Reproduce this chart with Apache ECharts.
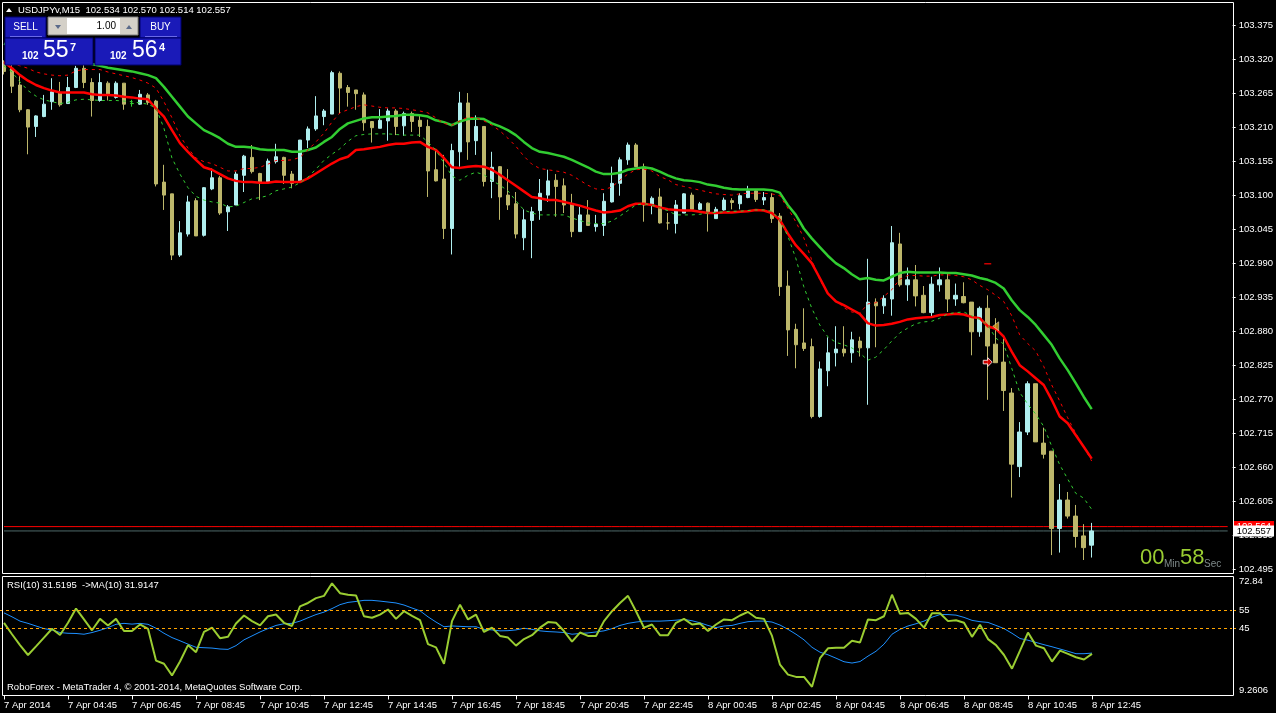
<!DOCTYPE html>
<html>
<head>
<meta charset="utf-8" />
<title>USDJPYv,M15</title>
<script type="text/javascript" src="https://cdn.jsdelivr.net/npm/echarts@6/dist/echarts.min.js"></script>
<style>
	html, body { margin: 0; padding: 0; background: #000; }
	#main { width: 1276px; height: 713px; }
</style>
</head>
<body>
<div id="main"></div>
<script>
// 时间轴标签 (每 8 根 K 线一个)
var timeLabels = ['7 Apr 2014', '7 Apr 04:45', '7 Apr 06:45', '7 Apr 08:45', '7 Apr 10:45', '7 Apr 12:45',
	'7 Apr 14:45', '7 Apr 16:45', '7 Apr 18:45', '7 Apr 20:45', '7 Apr 22:45', '8 Apr 00:45',
	'8 Apr 02:45', '8 Apr 04:45', '8 Apr 06:45', '8 Apr 08:45', '8 Apr 10:45', '8 Apr 12:45'];
var priceTicks = [102.495, 102.550, 102.605, 102.660, 102.715, 102.770, 102.825, 102.880, 102.935,
	102.990, 103.045, 103.100, 103.155, 103.210, 103.265, 103.320, 103.375];
var rsiTicks = [9.2606, 45, 55, 72.84];
var rsiLevels = [45, 55];

// K 线 USDJPYv M15
var opens = [103.312,103.305,103.278,103.238,103.211,103.227,103.251,103.266,103.248,103.274,
	103.305,103.282,103.253,103.281,103.258,103.281,103.248,103.247,103.262,103.252,
	103.121,103.102,103.003,103.037,103.091,103.035,103.110,103.128,103.073,103.084,
	103.132,103.161,103.135,103.120,103.154,103.161,103.134,103.123,103.189,103.207,
	103.227,103.231,103.297,103.274,103.270,103.262,103.219,103.208,103.220,103.236,
	103.212,103.232,103.221,103.211,103.141,103.126,103.046,103.170,103.249,103.188,
	103.211,103.122,103.146,103.100,103.086,103.031,103.059,103.075,103.100,103.124,
	103.115,103.086,103.041,103.068,103.049,103.051,103.089,103.119,103.157,103.181,
	103.145,103.084,103.097,103.055,103.054,103.071,103.100,103.077,103.087,103.062,
	103.076,103.091,103.086,103.096,103.107,103.092,103.096,103.066,102.953,102.883,
	102.861,102.855,102.742,102.816,102.845,102.851,102.845,102.864,102.853,102.927,
	102.921,102.932,103.021,102.955,102.963,102.938,102.910,102.955,102.963,102.932,
	102.936,102.927,102.879,102.917,102.859,102.830,102.780,102.661,102.717,102.795,
	102.699,102.686,102.561,102.607,102.581,102.549,102.534];
var highs = [103.318,103.312,103.294,103.239,103.229,103.262,103.289,103.283,103.291,103.309,
	103.312,103.289,103.297,103.284,103.284,103.281,103.254,103.270,103.265,103.254,
	103.149,103.102,103.058,103.099,103.095,103.113,103.143,103.131,103.084,103.138,
	103.165,103.181,103.136,103.159,103.183,103.162,103.139,103.189,103.211,103.260,
	103.239,103.301,103.300,103.278,103.270,103.266,103.219,103.239,103.240,103.239,
	103.235,103.235,103.229,103.222,103.172,103.165,103.183,103.267,103.265,103.229,
	103.211,103.170,103.147,103.142,103.105,103.077,103.081,103.126,103.141,103.134,
	103.127,103.102,103.081,103.092,103.068,103.103,103.146,103.161,103.185,103.184,
	103.151,103.098,103.111,103.071,103.092,103.103,103.104,103.089,103.088,103.081,
	103.096,103.095,103.103,103.115,103.109,103.105,103.103,103.071,102.978,102.892,
	102.917,102.868,102.831,102.870,102.888,102.888,102.879,102.871,102.997,102.933,
	102.938,103.050,103.039,102.983,102.987,102.953,102.968,102.983,102.974,102.957,
	102.959,102.927,102.920,102.938,102.901,102.868,102.788,102.733,102.799,102.795,
	102.724,102.686,102.633,102.620,102.599,102.568,102.570];
var lows = [103.295,103.265,103.234,103.166,103.194,103.226,103.238,103.243,103.248,103.273,
	103.273,103.227,103.251,103.253,103.256,103.238,103.243,103.246,103.246,103.114,
	103.076,102.995,103.000,103.033,103.034,103.033,103.108,103.068,103.042,103.084,
	103.105,103.135,103.092,103.118,103.151,103.118,103.111,103.123,103.176,103.204,
	103.213,103.231,103.232,103.243,103.238,103.204,103.185,103.208,103.188,103.197,
	103.196,103.202,103.194,103.097,103.122,103.029,103.004,103.146,103.157,103.165,
	103.114,103.095,103.060,103.076,103.030,103.011,102.998,103.060,103.089,103.065,
	103.071,103.032,103.041,103.051,103.041,103.034,103.088,103.099,103.149,103.146,
	103.057,103.069,103.054,103.044,103.038,103.071,103.075,103.076,103.041,103.062,
	103.075,103.077,103.077,103.095,103.089,103.084,103.055,102.937,102.840,102.820,
	102.848,102.739,102.740,102.791,102.823,102.839,102.829,102.839,102.761,102.854,
	102.908,102.905,102.952,102.929,102.920,102.909,102.903,102.944,102.911,102.921,
	102.925,102.841,102.871,102.769,102.829,102.751,102.611,102.644,102.712,102.701,
	102.674,102.518,102.522,102.577,102.530,102.510,102.514];
var closes = [103.300,103.276,103.238,103.210,103.228,103.247,103.267,103.246,103.274,103.305,
	103.282,103.253,103.282,103.262,103.281,103.247,103.248,103.263,103.250,103.118,
	103.100,103.003,103.039,103.089,103.034,103.112,103.128,103.071,103.081,103.134,
	103.163,103.138,103.120,103.155,103.162,103.132,103.119,103.189,103.207,103.228,
	103.236,103.298,103.273,103.266,103.264,103.217,103.209,103.221,103.236,103.211,
	103.232,103.219,103.211,103.139,103.123,103.046,103.172,103.249,103.186,103.211,
	103.122,103.145,103.097,103.084,103.037,103.060,103.073,103.103,103.123,103.114,
	103.084,103.041,103.068,103.051,103.053,103.090,103.119,103.157,103.181,103.146,
	103.084,103.095,103.055,103.055,103.084,103.102,103.077,103.086,103.071,103.077,
	103.092,103.088,103.099,103.107,103.093,103.096,103.062,102.952,102.882,102.858,
	102.852,102.742,102.819,102.845,102.851,102.845,102.866,102.853,102.927,102.921,
	102.933,103.023,102.955,102.963,102.937,102.910,102.956,102.963,102.932,102.938,
	102.926,102.879,102.917,102.856,102.829,102.784,102.665,102.717,102.795,102.701,
	102.681,102.561,102.607,102.581,102.548,102.530,102.557];
var greenDoji = [16];

// 均线
var maGreen = [103.345,103.340,103.336,103.333,103.330,103.327,103.324,103.321,103.318,103.316,
	103.314,103.312,103.309,103.306,103.304,103.302,103.300,103.297,103.294,103.289,
	103.275,103.259,103.243,103.227,103.216,103.205,103.199,103.192,103.183,103.178,
	103.178,103.177,103.174,103.173,103.173,103.173,103.170,103.170,103.173,103.177,
	103.186,103.194,103.207,103.216,103.220,103.224,103.226,103.226,103.227,103.228,
	103.230,103.230,103.229,103.227,103.221,103.218,103.213,103.219,103.223,103.224,
	103.223,103.216,103.211,103.205,103.197,103.186,103.176,103.170,103.168,103.165,
	103.162,103.157,103.151,103.145,103.138,103.134,103.134,103.136,103.141,103.143,
	103.145,103.143,103.138,103.132,103.127,103.124,103.123,103.121,103.117,103.115,
	103.112,103.110,103.109,103.109,103.109,103.109,103.108,103.104,103.084,103.068,
	103.046,103.030,103.016,103.002,102.990,102.982,102.972,102.964,102.966,102.963,
	102.962,102.968,102.974,102.976,102.975,102.975,102.975,102.975,102.974,102.974,
	102.972,102.970,102.966,102.963,102.958,102.949,102.930,102.914,102.903,102.890,
	102.874,102.858,102.836,102.817,102.796,102.774,102.754];
var maRed = [103.315,103.305,103.294,103.285,103.278,103.273,103.269,103.266,103.266,103.266,
	103.266,103.263,103.262,103.262,103.261,103.259,103.258,103.256,103.255,103.240,
	103.227,103.205,103.184,103.170,103.157,103.145,103.141,103.134,103.127,103.123,
	103.121,103.121,103.120,103.120,103.122,103.121,103.121,103.121,103.127,103.135,
	103.143,103.151,103.158,103.162,103.173,103.174,103.176,103.178,103.181,103.183,
	103.183,103.185,103.186,103.178,103.173,103.160,103.145,103.144,103.146,103.147,
	103.146,103.141,103.133,103.124,103.115,103.106,103.097,103.095,103.092,103.092,
	103.089,103.086,103.083,103.079,103.075,103.072,103.073,103.075,103.082,103.086,
	103.086,103.084,103.080,103.077,103.076,103.075,103.075,103.073,103.071,103.071,
	103.072,103.072,103.073,103.074,103.076,103.075,103.071,103.060,103.038,103.019,
	103.005,102.990,102.966,102.941,102.928,102.922,102.915,102.908,102.893,102.889,
	102.890,102.892,102.895,102.899,102.901,102.902,102.903,102.906,102.907,102.908,
	102.907,102.903,102.901,102.888,102.884,102.871,102.847,102.825,102.815,102.804,
	102.793,102.769,102.742,102.731,102.712,102.693,102.674];
var maRedDash = [103.315,103.312,103.309,103.305,103.299,103.296,103.294,103.293,103.294,103.301,
	103.303,103.303,103.303,103.299,103.296,103.293,103.290,103.286,103.281,103.273,
	103.251,103.225,103.196,103.176,103.160,103.154,103.151,103.145,103.139,103.139,
	103.143,103.143,103.145,103.150,103.156,103.156,103.157,103.161,103.173,103.186,
	103.200,103.218,103.233,103.238,103.243,103.246,103.244,103.242,103.241,103.241,
	103.240,103.238,103.236,103.233,103.225,103.216,103.213,103.220,103.226,103.225,
	103.220,103.213,103.204,103.192,103.179,103.163,103.150,103.143,103.141,103.139,
	103.137,103.132,103.124,103.116,103.110,103.109,103.113,103.124,103.134,103.141,
	103.142,103.139,103.130,103.125,103.117,103.114,103.111,103.108,103.105,103.102,
	103.101,103.100,103.102,103.103,103.103,103.103,103.102,103.099,103.079,103.057,
	103.031,102.995,102.963,102.941,102.930,102.918,102.911,102.909,102.924,102.926,
	102.936,102.947,102.964,102.970,102.970,102.969,102.969,102.971,102.971,102.970,
	102.968,102.963,102.954,102.947,102.938,102.928,102.905,102.874,102.860,102.848,
	102.823,102.793,102.767,102.740,102.715,102.693,102.670];
var maGreenDash = [103.309,103.299,103.283,103.269,103.260,103.254,103.251,103.248,103.250,103.254,
	103.255,103.254,103.253,103.253,103.253,103.252,103.251,103.249,103.247,103.241,
	103.208,103.160,103.134,103.112,103.098,103.092,103.089,103.087,103.081,103.082,
	103.088,103.094,103.096,103.099,103.107,103.110,103.113,103.120,103.129,103.142,
	103.156,103.166,103.175,103.187,103.196,103.198,103.199,103.199,103.199,103.198,
	103.197,103.197,103.197,103.186,103.173,103.152,103.131,103.124,103.132,103.137,
	103.133,103.124,103.116,103.107,103.091,103.076,103.071,103.068,103.068,103.068,
	103.068,103.063,103.059,103.055,103.054,103.054,103.058,103.066,103.075,103.084,
	103.086,103.084,103.079,103.075,103.068,103.068,103.068,103.069,103.071,103.072,
	103.073,103.074,103.074,103.075,103.076,103.076,103.074,103.060,103.034,102.998,
	102.952,102.917,102.890,102.871,102.862,102.858,102.853,102.845,102.833,102.838,
	102.850,102.864,102.877,102.885,102.892,102.895,102.896,102.901,102.908,102.910,
	102.911,102.905,102.899,102.890,102.869,102.859,102.820,102.781,102.762,102.746,
	102.726,102.694,102.664,102.641,102.618,102.610,102.592];

// RSI(10) 与其 MA(10)
var rsi = [48.1,42.0,36.2,30.9,35.5,40.2,44.9,41.6,48.1,55.7,
	49.9,44.1,50.2,46.7,50.2,43.7,43.7,47.2,44.9,27.9,
	26.2,20.0,27.4,36.2,32.4,43.2,45.5,39.9,40.6,47.7,
	52.0,49.0,46.7,51.6,52.5,48.1,46.4,56.9,58.7,61.3,
	62.5,69.2,63.9,63.1,62.7,51.6,50.8,52.5,55.2,50.2,
	54.3,51.8,49.5,36.7,35.0,26.2,49.0,57.8,49.9,52.5,
	43.2,45.5,41.1,40.2,35.9,39.4,41.5,45.5,48.5,48.1,
	43.7,38.0,42.9,41.1,41.1,49.0,54.3,58.7,62.5,54.3,
	45.5,47.2,41.5,41.5,48.1,50.2,47.2,47.7,43.7,47.2,
	49.9,49.5,52.0,53.9,50.8,50.2,41.1,25.7,20.4,19.2,
	19.2,13.9,29.2,34.5,34.8,34.8,38.5,37.6,49.9,49.5,
	51.6,63.1,52.9,53.4,50.2,45.5,53.2,53.2,49.0,49.5,
	48.1,40.6,47.1,39.4,36.2,30.9,23.6,33.2,42.9,35.9,
	34.5,27.4,33.2,31.5,29.7,28.5,31.52];
var rsiMa = [53.4,51.3,49.0,47.8,46.4,45.0,44.3,42.9,42.5,42.4,
	42.0,42.9,44.1,45.5,47.3,47.8,47.4,47.8,47.3,45.2,
	42.5,40.2,38.5,36.7,35.0,34.8,34.6,34.1,33.9,35.9,
	39.0,41.1,43.2,45.0,46.7,47.6,47.8,49.0,50.8,52.5,
	53.8,55.7,57.8,59.0,59.5,60.1,60.1,59.7,59.2,58.7,
	57.6,56.0,54.5,51.3,48.5,46.0,46.4,46.2,46.0,46.0,
	44.6,44.3,43.8,43.9,44.3,45.2,44.6,43.8,43.4,43.2,
	42.9,42.0,42.4,42.7,43.2,43.8,45.0,46.7,47.8,48.5,
	49.0,49.0,49.0,49.2,49.5,49.9,49.2,48.1,46.7,45.5,
	46.4,46.7,47.8,48.7,49.0,49.0,48.5,46.9,44.6,42.0,
	39.0,35.0,32.4,31.0,29.2,27.3,26.6,27.4,30.3,32.9,
	36.7,42.0,44.6,46.4,47.6,49.0,51.1,52.5,52.5,52.2,
	51.0,49.4,48.7,48.3,46.7,45.0,42.5,39.7,38.8,37.6,
	36.4,35.3,34.1,32.9,31.6,31.6,31.91];

var bid = 102.557, ask = 102.564;
// 图上的交易标记 [K线序号, 价格]
var arrowMarks = [[122.7, 102.830]];
var triangleMarks = [[124.2, 102.888]];
var dashMarks = [[123.0, 102.989]];

var FONT = 'Liberation Sans';
var SLOTS = 154;
var cats = [];
for (var i = 0; i < SLOTS; i++) cats.push(i);

var candles = [];
for (var i = 0; i < opens.length; i++) {
	var item = { value: [opens[i], closes[i], lows[i], highs[i]] };
	if (greenDoji.indexOf(i) >= 0) {
		item.itemStyle = { borderColor: '#32CD32', borderColor0: '#32CD32', borderColorDoji: '#32CD32' };
	}
	candles.push(item);
}

function showTick(idx) { return idx % 8 === 0 && idx / 8 < timeLabels.length; }

// 价格线: 横跨整个图的水平线 + 右侧价格标签
function priceSeries(name, value, lineColor, boxColor, textColor, z) {
	var flat = [];
	for (var i = 0; i < SLOTS; i++) flat.push(value);
	return {
		name: name, type: 'line', xAxisIndex: 0, yAxisIndex: 0, data: flat, showSymbol: false, z: z,
		silent: true, lineStyle: { color: lineColor, width: 1 },
		endLabel: { show: true, distance: 6, formatter: value.toFixed(3), color: textColor,
			backgroundColor: boxColor, padding: [1, 3, 0, 3], fontFamily: FONT, fontSize: 9.5 }
	};
}

var mychart = echarts.init(document.getElementById('main'));

var graphics = [
	// 主图 / 副图 边框
	{ type: 'rect', shape: { x: 2.5, y: 2.5, width: 1231, height: 571 }, style: { fill: null, stroke: '#fff', lineWidth: 1 }, z: 50, silent: true },
	{ type: 'rect', shape: { x: 2.5, y: 576.5, width: 1231, height: 119 }, style: { fill: null, stroke: '#fff', lineWidth: 1 }, z: 50, silent: true },
	// 标题
	{ type: 'polygon', shape: { points: [[6, 12], [12, 12], [9, 8]] }, style: { fill: '#fff' }, z: 60 },
	{ type: 'text', x: 18, y: 10, style: { text: 'USDJPYv,M15  102.534 102.570 102.514 102.557', fill: '#fff', font: '9.5px ' + FONT, verticalAlign: 'middle' }, z: 60 },
	// 一键交易面板
	{ type: 'rect', shape: { x: 5, y: 17, width: 41, height: 21 }, style: { fill: '#1a1ab8', stroke: '#00006a' }, z: 60 },
	{ type: 'line', shape: { x1: 10, y1: 36.5, x2: 42, y2: 36.5 }, style: { stroke: '#6a6ae8' }, z: 61 },
	{ type: 'text', x: 25.5, y: 27, style: { text: 'SELL', fill: '#fff', font: '10px ' + FONT, align: 'center', verticalAlign: 'middle' }, z: 61 },
	{ type: 'rect', shape: { x: 48, y: 17, width: 90, height: 18 }, style: { fill: '#d4d0c8', stroke: '#808080' }, z: 60 },
	{ type: 'rect', shape: { x: 67, y: 18, width: 53, height: 16 }, style: { fill: '#fff' }, z: 61 },
	{ type: 'polygon', shape: { points: [[55, 25], [61, 25], [58, 29]] }, style: { fill: '#5a6a8a' }, z: 61 },
	{ type: 'polygon', shape: { points: [[126, 29], [132, 29], [129, 25]] }, style: { fill: '#5a6a8a' }, z: 61 },
	{ type: 'text', x: 116, y: 26.5, style: { text: '1.00', fill: '#000', font: '10px ' + FONT, align: 'right', verticalAlign: 'middle' }, z: 62 },
	{ type: 'rect', shape: { x: 140, y: 17, width: 41, height: 21 }, style: { fill: '#1a1ab8', stroke: '#00006a' }, z: 60 },
	{ type: 'line', shape: { x1: 145, y1: 36.5, x2: 177, y2: 36.5 }, style: { stroke: '#6a6ae8' }, z: 61 },
	{ type: 'text', x: 160.5, y: 27, style: { text: 'BUY', fill: '#fff', font: '10px ' + FONT, align: 'center', verticalAlign: 'middle' }, z: 61 },
	{ type: 'rect', shape: { x: 5, y: 38, width: 88, height: 27 }, style: { fill: '#1a1ab8', stroke: '#00006a' }, z: 60 },
	{ type: 'rect', shape: { x: 95, y: 38, width: 86, height: 27 }, style: { fill: '#1a1ab8', stroke: '#00006a' }, z: 60 },
	{ type: 'text', x: 22, y: 56, style: { text: '102', fill: '#fff', font: 'bold 10px ' + FONT, verticalAlign: 'middle' }, z: 61 },
	{ type: 'text', x: 43, y: 51, style: { text: '55', fill: '#fff', font: '23px ' + FONT, verticalAlign: 'middle' }, z: 61 },
	{ type: 'text', x: 70, y: 47.5, style: { text: '7', fill: '#fff', font: 'bold 11px ' + FONT, verticalAlign: 'middle' }, z: 61 },
	{ type: 'text', x: 110, y: 56, style: { text: '102', fill: '#fff', font: 'bold 10px ' + FONT, verticalAlign: 'middle' }, z: 61 },
	{ type: 'text', x: 132, y: 51, style: { text: '56', fill: '#fff', font: '23px ' + FONT, verticalAlign: 'middle' }, z: 61 },
	{ type: 'text', x: 159, y: 47.5, style: { text: '4', fill: '#fff', font: 'bold 11px ' + FONT, verticalAlign: 'middle' }, z: 61 },
	// 倒计时
	{ type: 'text', x: 1140, y: 569, style: { text: '00', fill: '#9ACD32', font: '22px ' + FONT, verticalAlign: 'bottom' }, z: 60 },
	{ type: 'text', x: 1164, y: 569, style: { text: 'Min', fill: '#7f8a8a', font: '10px ' + FONT, verticalAlign: 'bottom' }, z: 60 },
	{ type: 'text', x: 1180, y: 569, style: { text: '58', fill: '#9ACD32', font: '22px ' + FONT, verticalAlign: 'bottom' }, z: 60 },
	{ type: 'text', x: 1204, y: 569, style: { text: 'Sec', fill: '#7f8a8a', font: '10px ' + FONT, verticalAlign: 'bottom' }, z: 60 },
	// RSI 标题与版权
	{ type: 'text', x: 7, y: 585, style: { text: 'RSI(10) 31.5195  ->MA(10) 31.9147', fill: '#fff', font: '9.5px ' + FONT, verticalAlign: 'middle' }, z: 60 },
	{ type: 'text', x: 7, y: 687, style: { text: 'RoboForex - MetaTrader 4, \u00a9 2001-2014, MetaQuotes Software Corp.', fill: '#fff', font: '9.5px ' + FONT, verticalAlign: 'middle' }, z: 60 }
];

var option = {
	backgroundColor: '#000',
	animation: false,
	grid: [
		{ left: 0, top: 3, width: 1232, height: 570 },
		{ left: 0, top: 576.5, width: 1232, height: 119 }
	],
	xAxis: [
		{ type: 'category', gridIndex: 0, data: cats, show: false, boundaryGap: true },
		{
			type: 'category', gridIndex: 1, data: cats, boundaryGap: true,
			axisLine: { show: false },
			axisTick: { show: true, alignWithLabel: true, interval: showTick, length: 4, lineStyle: { color: '#fff' } },
			axisLabel: {
				interval: showTick, align: 'left', margin: 5, color: '#fff', fontFamily: FONT, fontSize: 9.5,
				formatter: function (v, idx) { return showTick(idx) ? timeLabels[idx / 8] : ''; }
			},
			splitLine: { show: false }
		}
	],
	yAxis: [
		{
			type: 'value', gridIndex: 0, position: 'right', min: 102.489, max: 103.4106, offset: 1,
			splitLine: { show: false }, axisLine: { show: false },
			axisTick: { show: true, length: 3, customValues: priceTicks, lineStyle: { color: '#fff' } },
			axisLabel: { customValues: priceTicks, color: '#fff', fontFamily: FONT, fontSize: 9.5, margin: 6,
				formatter: function (v) { return v.toFixed(3); } }
		},
		{
			type: 'value', gridIndex: 1, position: 'right', min: 9.2606, max: 72.84, offset: 1,
			splitLine: { show: false }, axisLine: { show: false },
			axisTick: { show: true, length: 3, customValues: rsiLevels, lineStyle: { color: '#FFA500' } },
			axisLabel: { customValues: rsiTicks, color: '#fff', fontFamily: FONT, fontSize: 9.5, margin: 6,
				verticalAlignMinLabel: 'bottom', verticalAlignMaxLabel: 'top',
				formatter: function (v) { return String(v); } }
		}
	],
	series: [
		priceSeries('Ask', ask, '#FF0000', '#FF0000', '#fff', 1),
		priceSeries('Bid', bid, '#4f6a6a', '#fff', '#000', 1.5),
		{
			name: 'maGreen', type: 'line', xAxisIndex: 0, yAxisIndex: 0, data: maGreen, showSymbol: false, z: 3,
			lineStyle: { color: '#32CD32', width: 2.5 }
		},
		{
			name: 'maRed', type: 'line', xAxisIndex: 0, yAxisIndex: 0, data: maRed, showSymbol: false, z: 3,
			lineStyle: { color: '#FF0000', width: 2.5 }
		},
		{
			name: 'maRedDash', type: 'line', xAxisIndex: 0, yAxisIndex: 0, data: maRedDash, showSymbol: false, z: 3,
			lineStyle: { color: '#FF0000', width: 1, type: [3, 4] }
		},
		{
			name: 'maGreenDash', type: 'line', xAxisIndex: 0, yAxisIndex: 0, data: maGreenDash, showSymbol: false, z: 3,
			lineStyle: { color: '#32CD32', width: 1, type: [3, 4] }
		},
		{
			name: 'USDJPYv', type: 'candlestick', xAxisIndex: 0, yAxisIndex: 0, data: candles, barWidth: 4, z: 2,
			itemStyle: {
				color: '#AFEEEE', color0: '#BDB76B',
				borderColor: '#AFEEEE', borderColor0: '#BDB76B', borderColorDoji: '#BDB76B', borderWidth: 1
			}
		},
		{
			name: 'arrow', type: 'scatter', xAxisIndex: 0, yAxisIndex: 0, data: arrowMarks, z: 6,
			symbol: 'path://M0,3 L5,3 L5,0 L10,5 L5,10 L5,7 L0,7 Z', symbolSize: [9, 9],
			itemStyle: { color: '#FF0000', borderColor: '#fff', borderWidth: 1 }
		},
		{
			name: 'triangle', type: 'scatter', xAxisIndex: 0, yAxisIndex: 0, data: triangleMarks, z: 6,
			symbol: 'triangle', symbolRotate: 90, symbolSize: [9, 6],
			itemStyle: { color: '#DAA520', borderColor: '#fff', borderWidth: 0.5 }
		},
		{
			name: 'dash', type: 'scatter', xAxisIndex: 0, yAxisIndex: 0, data: dashMarks, z: 7,
			symbol: 'rect', symbolSize: [7, 1.5], itemStyle: { color: '#FF0000' }
		},
		{
			name: 'RSI(10)', type: 'line', xAxisIndex: 1, yAxisIndex: 1, data: rsi, showSymbol: false, z: 4,
			lineStyle: { color: '#9ACD32', width: 2 },
			markLine: {
				silent: true, symbol: ['none', 'none'], label: { show: false }, animation: false,
				lineStyle: { color: '#FFA500', width: 1, type: [3, 3] },
				data: rsiLevels.map(function (v) { return { yAxis: v }; })
			}
		},
		{
			name: 'MA(10)', type: 'line', xAxisIndex: 1, yAxisIndex: 1, data: rsiMa, showSymbol: false, z: 3,
			lineStyle: { color: '#1E90FF', width: 1 }
		}
	],
	graphic: graphics
};

mychart.setOption(option);
</script>
</body>
</html>
